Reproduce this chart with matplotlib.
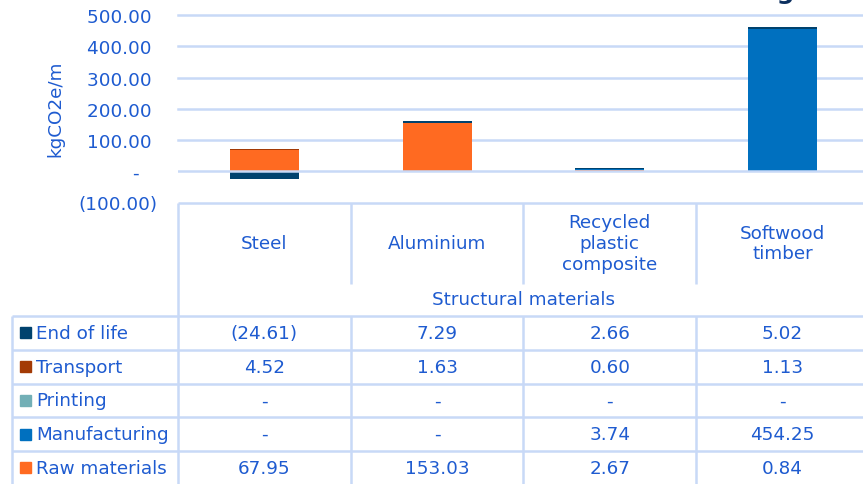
import numpy as np
import matplotlib
matplotlib.use("Agg")
import matplotlib.pyplot as plt

# данные диаграммы
categories = ["Steel", "Aluminium", "Recycled\nplastic\ncomposite", "Softwood\ntimber"]
group_label = "Structural materials"
stages = ["End of life", "Transport", "Printing", "Manufacturing", "Raw materials"]
end_of_life = [-24.61, 7.29, 2.66, 5.02]
transport = [4.52, 1.63, 0.60, 1.13]
printing = [0.0, 0.0, 0.0, 0.0]
manufacturing = [0.0, 0.0, 3.74, 454.25]
raw_materials = [67.95, 153.03, 2.67, 0.84]
y_ticks = [-100, 0, 100, 200, 300, 400, 500]

colors = {
    "End of life": "#00426E",
    "Transport": "#A33A05",
    "Printing": "#72AFB6",
    "Manufacturing": "#0070BF",
    "Raw materials": "#FF6A21",
}
values = {
    "End of life": end_of_life,
    "Transport": transport,
    "Printing": printing,
    "Manufacturing": manufacturing,
    "Raw materials": raw_materials,
}

TXT = "#1E5BD0"
GRID = "#C8D9F7"
FS = 13.2

W, H = 863, 485
fig = plt.figure(figsize=(W / 100, H / 100), dpi=100)

# пиксельная разметка
plot_left = 178
col_w = 172.7
y_top, y_bot = 16, 203.5
row_lines = [317, 350.7, 384.5, 418.2, 452, 485.7]


def acc(v):
    if v == 0:
        return "-"
    if v < 0:
        return "({:,.2f})".format(abs(v))
    return "{:,.2f}".format(v)


# основная диаграмма
ax = fig.add_axes([plot_left / W, 1 - y_bot / H, 4 * col_w / W, (y_bot - y_top) / H])
x = np.arange(len(categories))
pos_base = np.zeros(len(categories))
neg_base = np.zeros(len(categories))
for st in ["Raw materials", "Manufacturing", "Printing", "Transport", "End of life"]:
    v = np.array(values[st])
    base = np.where(v >= 0, pos_base, neg_base)
    ax.bar(x, v, width=0.4, bottom=base, color=colors[st], zorder=3)
    pos_base += np.where(v >= 0, v, 0)
    neg_base += np.where(v < 0, v, 0)

ax.set_xlim(-0.5, 3.5)
ax.set_ylim(-100, 500)
ax.set_yticks(y_ticks)


def tick_fmt(v):
    if v == 0:
        return "-   "
    if v < 0:
        return acc(v)
    return acc(v) + " "


ax.set_yticklabels([tick_fmt(v) for v in y_ticks])
ax.tick_params(axis="y", length=0, pad=15, labelsize=FS, labelcolor=TXT)
ax.tick_params(axis="x", length=0, labelbottom=False)
for v in y_ticks[2:]:
    ax.axhline(v, color=GRID, lw=1.8, zorder=1, clip_on=False)
# нулевая линия поверх столбцов
ax.axhline(0, color=GRID, lw=1.8, zorder=4)
for s in ax.spines.values():
    s.set_visible(False)

fig.text(55 / W, 1 - 109 / H, "kgCO2e/m", rotation=90, ha="center", va="center",
         fontsize=FS, color=TXT)

# обрезанный заголовок сверху
fig.text(795 / W, 1 + 1 / H, "Decking", ha="right", va="baseline", fontsize=18,
         fontweight="bold", color="#0C2F5F")

# таблица данных
tab = fig.add_axes([0, 0, 1, 1], zorder=5)
tab.set_xlim(0, W)
tab.set_ylim(H, 0)
tab.axis("off")
tab.patch.set_alpha(0)

right = plot_left + 4 * col_w
lk = dict(color=GRID, lw=1.8, solid_capstyle="butt")
tab.plot([plot_left, right], [204, 204], **lk)
tab.plot([plot_left, plot_left], [204, H + 2], **lk)
tab.plot([12, 12], [row_lines[0], H + 2], **lk)
for yl in row_lines:
    tab.plot([12, right], [yl, yl], **lk)
for i in range(1, 5):
    xc = plot_left + i * col_w
    tab.plot([xc, xc], [204, 285], **lk)
    tab.plot([xc, xc], [row_lines[0], H + 2], **lk)

for i, cat in enumerate(categories):
    xc = plot_left + (i + 0.5) * col_w
    tab.text(xc, 244, cat, ha="center", va="center", fontsize=FS, color=TXT,
             linespacing=1.2)
tab.text(plot_left + 2 * col_w, 300, group_label, ha="center", va="center",
         fontsize=FS, color=TXT)

for r, st in enumerate(stages):
    yc = (row_lines[r] + row_lines[r + 1]) / 2
    tab.add_patch(plt.Rectangle((19.5, yc - 5.5), 11, 11, color=colors[st]))
    tab.text(36, yc, st, ha="left", va="center", fontsize=FS, color=TXT)
    for i, v in enumerate(values[st]):
        xc = plot_left + (i + 0.5) * col_w
        tab.text(xc, yc, acc(v), ha="center", va="center", fontsize=FS, color=TXT)

fig.savefig("out.png", dpi=100)
